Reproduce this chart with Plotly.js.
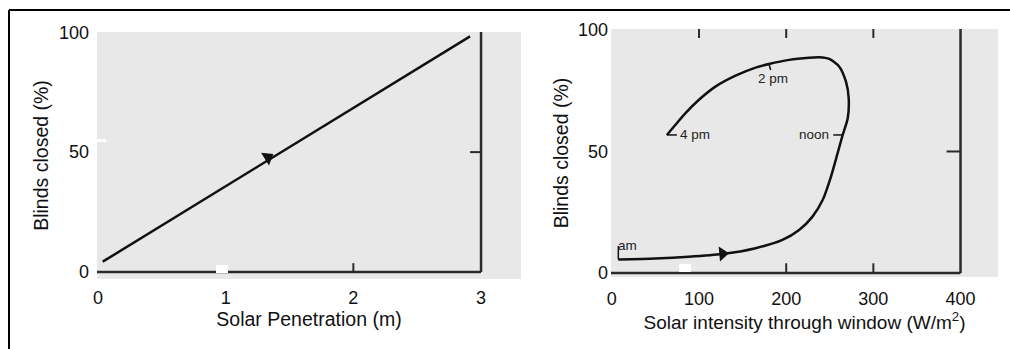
<!DOCTYPE html>
<html>
<head>
<meta charset="utf-8">
<script src="https://cdn.plot.ly/plotly-3.0.1.min.js"></script>
<style>html,body{margin:0;padding:0;background:#fff;}#chart{width:1010px;height:349px;}</style>
</head>
<body>
<div id="chart"></div>
<script>
// Left panel: blinds closed vs solar penetration
const penetration = [0.037, 2.914];
const blindsLeft = [4.3, 98.3];
const leftXTicks = [0, 1, 2, 3];
const leftYTicks = [0, 50, 100];
const leftArrowX = [1.33];
const leftArrowY = [47.8];

// Right panel: blinds closed vs solar intensity through window (daily loop)
const intensity = [7.4, 49.7, 88.0, 126.5, 164.9, 195.7, 214.8, 230.2, 241.8, 251.3, 259.0, 264.8, 270.6, 271.7, 268.6, 260.9, 249.4, 237.8, 226.3, 203.3, 180.2, 164.9, 141.9, 118.8, 99.6, 84.2, 72.7, 63.1];
const blindsRight = [5.6, 6.0, 6.7, 7.8, 10.2, 13.6, 17.7, 23.2, 30.0, 39.6, 49.3, 56.8, 63.7, 71.9, 78.7, 84.9, 88.1, 88.8, 88.6, 87.7, 86.0, 84.5, 81.2, 76.7, 71.2, 65.7, 60.9, 56.8];
const rightXTicks = [0, 100, 200, 300, 400];
const rightYTicks = [0, 50, 100];
const rightArrowX = [127];
const rightArrowY = [7.9];

// Time-of-day labels on the loop
const timeLabels = ["am", "2 pm", "4 pm", "noon"];
const timeX = [4.7, 185.4, 75.8, 251.3];
const timeY = [11.5, 80.1, 56.8, 56.8];

const FONT = "Liberation Sans, Arial, Helvetica, sans-serif";
const INK = "#111";
const AX = "#2a2a2a";
const BG = "#e8e8e8";

const traces = [
  {x: penetration, y: blindsLeft, xaxis: "x", yaxis: "y", mode: "lines",
   line: {color: INK, width: 2.5}, hoverinfo: "skip", showlegend: false},
  {x: intensity, y: blindsRight, xaxis: "x2", yaxis: "y2", mode: "lines",
   line: {color: INK, width: 2.5, shape: "spline", smoothing: 0.7}, hoverinfo: "skip", showlegend: false},
  {x: leftArrowX, y: leftArrowY, xaxis: "x", yaxis: "y", mode: "markers",
   marker: {symbol: "triangle-right", size: 13, color: INK, angle: -31.6, line: {width: 0}},
   hoverinfo: "skip", showlegend: false},
  {x: rightArrowX, y: rightArrowY, xaxis: "x2", yaxis: "y2", mode: "markers",
   marker: {symbol: "triangle-right", size: 13, color: INK, angle: -5, line: {width: 0}},
   hoverinfo: "skip", showlegend: false}
];

function axLine(xref, yref, x0, y0, x1, y1, w, c) {
  return {type: "line", xref: xref, yref: yref, x0: x0, y0: y0, x1: x1, y1: y1,
          line: {color: c || AX, width: w || 2.5}};
}
function pxRect(x0, y0, x1, y1) {
  return {type: "rect", xref: "paper", yref: "paper", x0: x0/1010, x1: x1/1010,
          y0: 1 - y1/349, y1: 1 - y0/349, line: {width: 0}, fillcolor: "#ffffff"};
}

const shapes = [
  // outer frame (top and left)
  {type: "line", xref: "paper", yref: "paper", x0: 9/1010, x1: 1, y0: 1 - 10/349, y1: 1 - 10/349, line: {color: "#000", width: 2}},
  {type: "line", xref: "paper", yref: "paper", x0: 9/1010, x1: 9/1010, y0: 0, y1: 1 - 10/349, line: {color: "#000", width: 2}},
  // left panel frame
  axLine("x", "y", -0.0078, 0, 3, 0),
  axLine("x", "y", 3, 0, 3, 100.1),
  axLine("x", "y", 2, 0, 2, 3.7, 2),
  axLine("x", "y", 2.914, 50, 3, 50, 2),
  // right panel frame
  axLine("x2", "y2", -1, 0, 400, 0),
  axLine("x2", "y2", 400, 0, 400, 100.4),
  axLine("x2", "y2", 100, 96.7, 100, 100.4, 2),
  axLine("x2", "y2", 200, 96.7, 200, 100.4, 2),
  axLine("x2", "y2", 300, 96.7, 300, 100.4, 2),
  axLine("x2", "y2", 200, 0, 200, 4, 2),
  axLine("x2", "y2", 300, 0, 300, 4, 2),
  axLine("x2", "y2", 384, 50, 400, 50, 2),
  // time label marks on the loop
  axLine("x2", "y2", 7.4, 5.6, 7.4, 11.1, 1.5, INK),
  axLine("x2", "y2", 180.2, 86.0, 182.2, 83.5, 1.5, INK),
  axLine("x2", "y2", 63.1, 56.8, 74.6, 56.8, 1.5, INK),
  axLine("x2", "y2", 254, 56.8, 264.8, 56.8, 1.5, INK),
  // scan blemishes
  pxRect(97, 139, 106, 142),
  pxRect(216, 265, 228, 273),
  pxRect(679, 264, 691, 272)
];

const annotations = [];
const anchors = ["left", "center", "left", "right"];
for (let i = 0; i < timeLabels.length; i++) {
  annotations.push({x: timeX[i], y: timeY[i], xref: "x2", yref: "y2", text: timeLabels[i],
    showarrow: false, xanchor: anchors[i], yanchor: "middle",
    font: {family: FONT, size: 13.5, color: "#222"}});
}

const tickFont = {family: FONT, size: 18, color: INK};
const titleFont = {family: FONT, size: 19.5, color: INK};
const axBase = {showgrid: false, zeroline: false, showline: false, ticks: "", tickmode: "array",
                tickfont: tickFont, fixedrange: true, automargin: false};

const layout = {
  width: 1010, height: 349,
  margin: {l: 0, r: 0, t: 0, b: 0},
  paper_bgcolor: "#ffffff",
  plot_bgcolor: BG,
  showlegend: false,
  xaxis: Object.assign({}, axBase, {domain: [97/1010, 521/1010], range: [-0.0078, 3.313],
    tickvals: leftXTicks, ticklabelstandoff: 6, anchor: "y",
    title: {text: "Solar Penetration (m)", font: titleFont, standoff: 4}}),
  yaxis: Object.assign({}, axBase, {domain: [1 - 279/349, 1 - 32/349], range: [-2.92, 100.1],
    tickvals: leftYTicks, ticklabelstandoff: 7, anchor: "x",
    title: {text: "Blinds closed (%)", font: titleFont, standoff: 5}}),
  xaxis2: Object.assign({}, axBase, {domain: [611/1010, 998/1010], range: [-1, 443],
    tickvals: rightXTicks, ticklabelstandoff: 9, anchor: "y2",
    title: {text: "Solar intensity through window (W/m<sup>2</sup>)", font: {family: FONT, size: 19, color: INK}, standoff: 2}}),
  yaxis2: Object.assign({}, axBase, {domain: [1 - 277/349, 1 - 29/349], range: [-1.65, 100.4],
    tickvals: rightYTicks, ticklabelstandoff: 2, anchor: "x2",
    title: {text: "Blinds closed (%)", font: titleFont, standoff: 4}}),
  shapes: shapes,
  annotations: annotations
};

Plotly.newPlot("chart", traces, layout, {staticPlot: true, displayModeBar: false});
</script>
</body>
</html>
